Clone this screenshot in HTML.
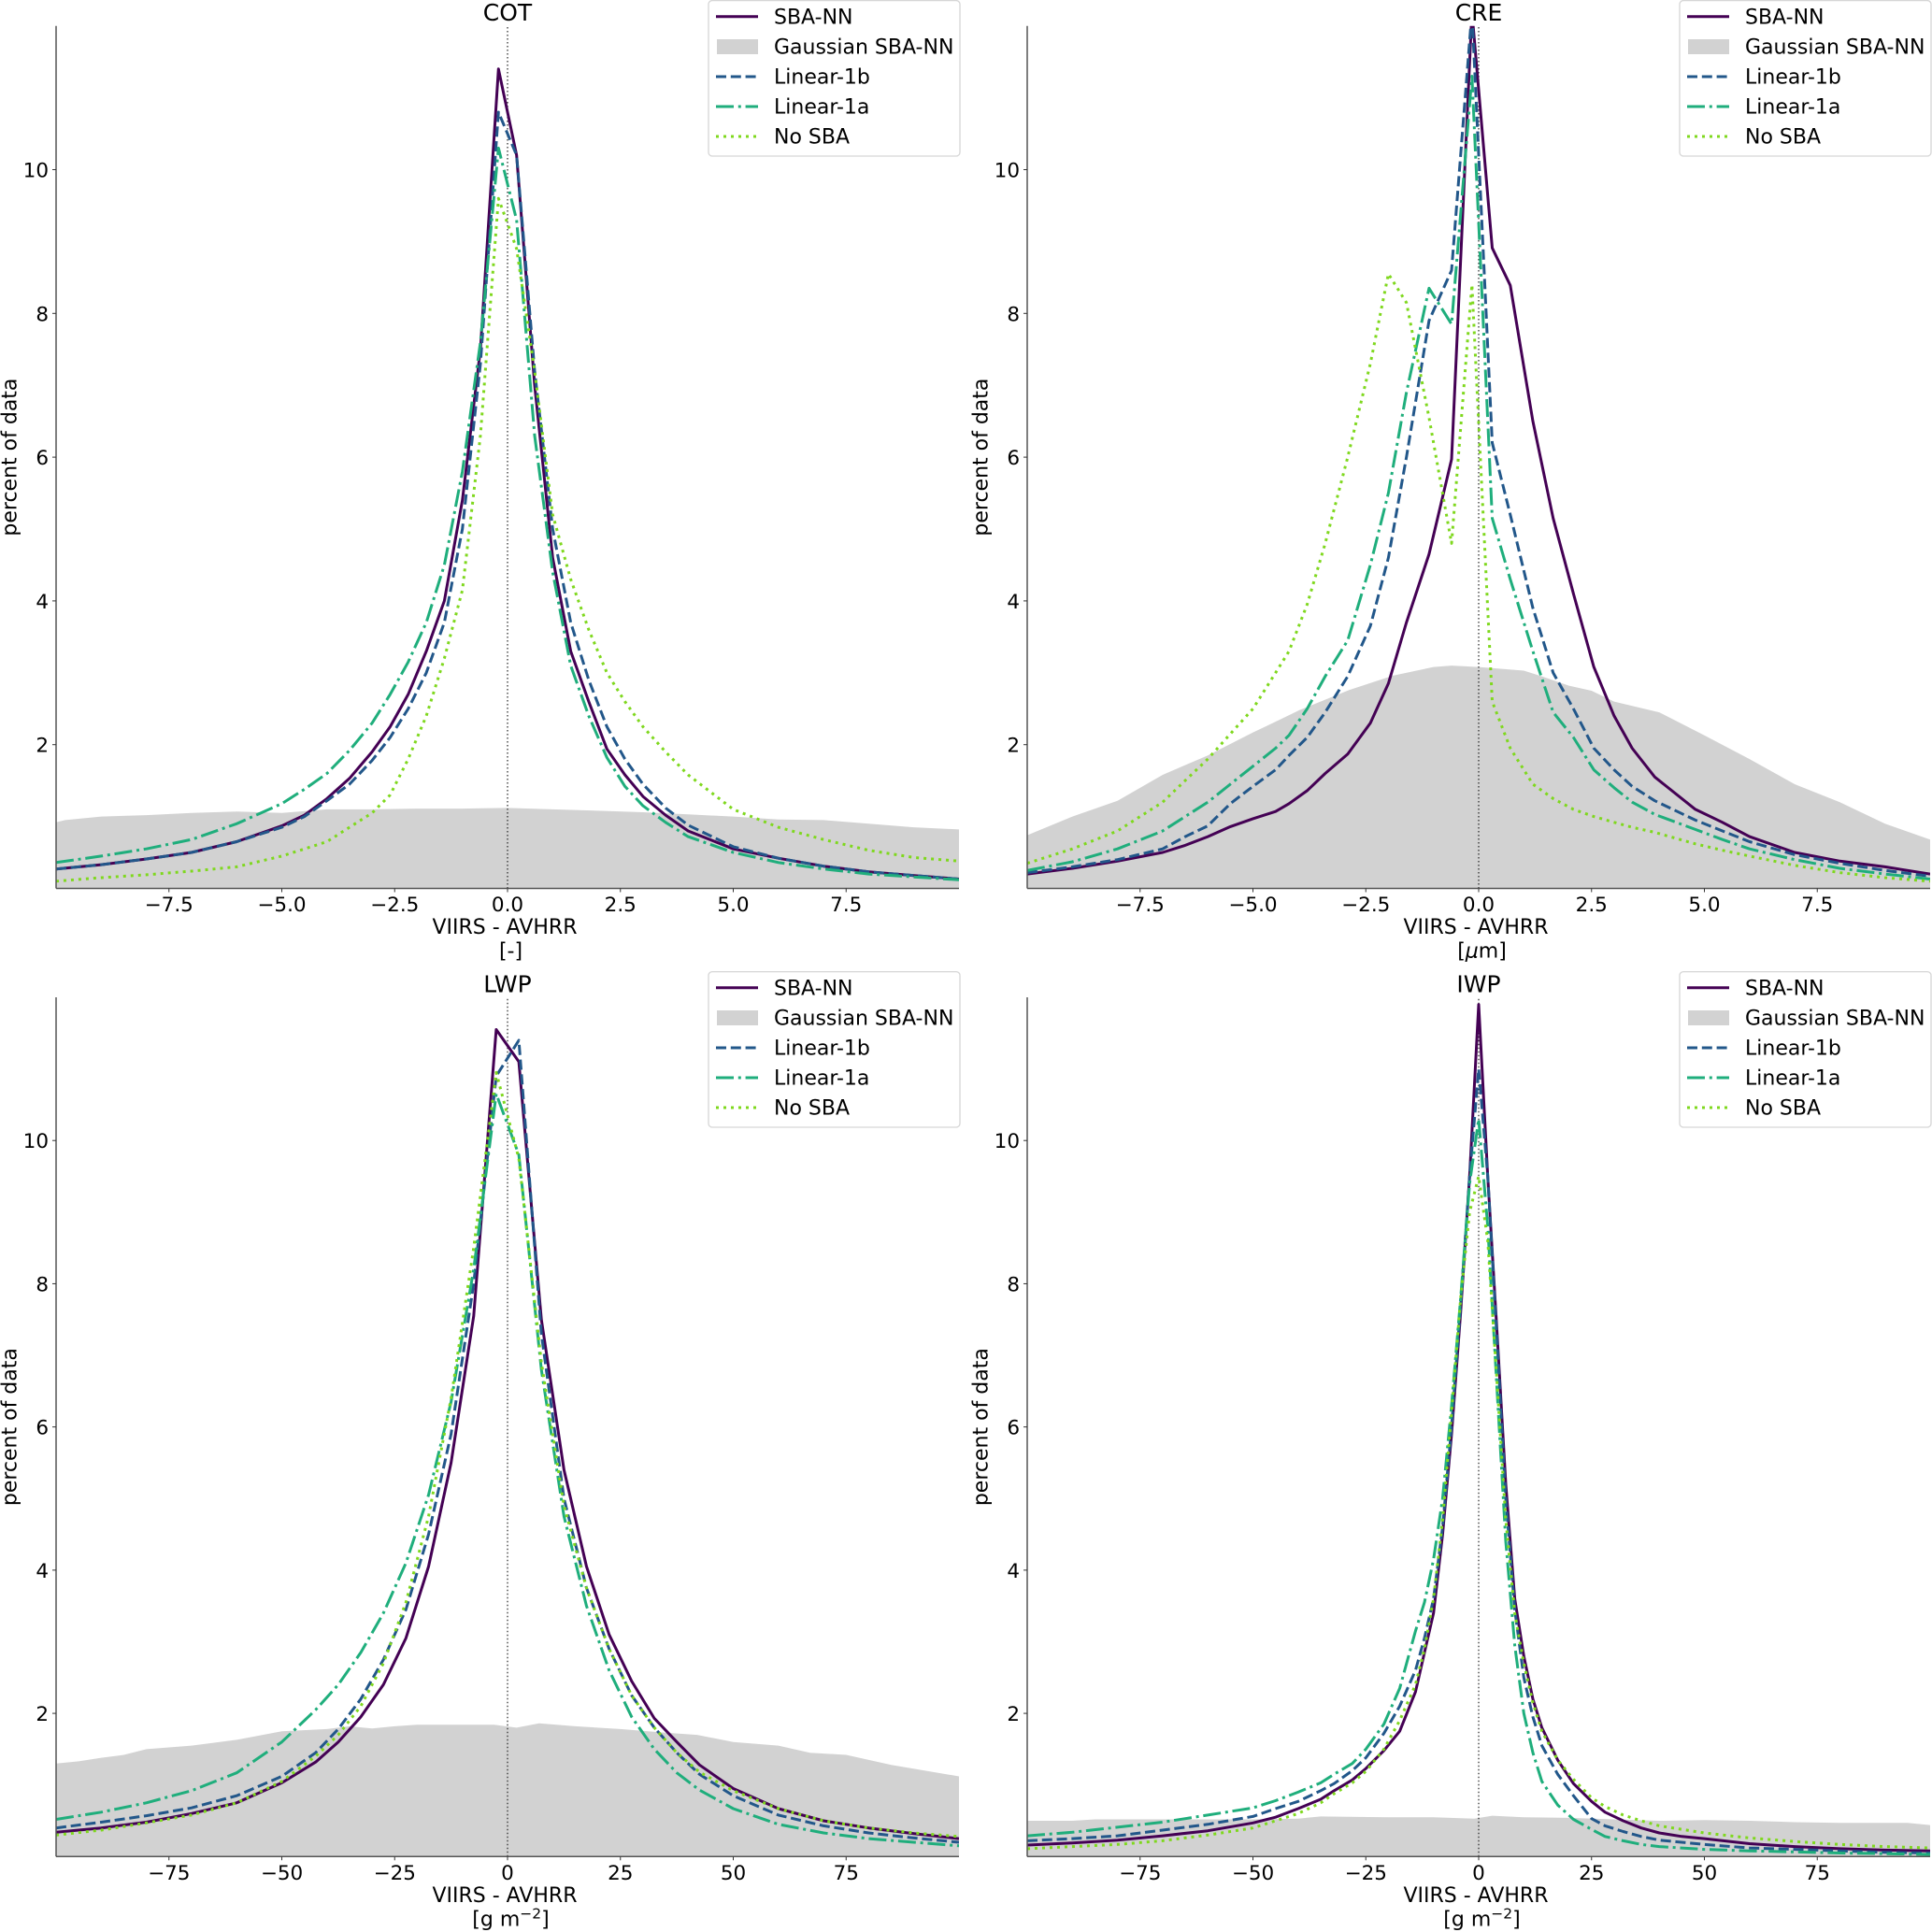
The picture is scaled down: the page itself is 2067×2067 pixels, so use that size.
<!DOCTYPE html>
<html>
<head>
<meta charset="utf-8">
<title>VIIRS - AVHRR difference distributions</title>
<style>
html,body{margin:0;padding:0;background:#fff;}
svg{display:block;}
text{font-family:"DejaVu Sans","Liberation Sans",sans-serif;fill:#000;}
</style>
</head>
<body>
<svg id="figure" xmlns="http://www.w3.org/2000/svg" width="2067" height="2067" viewBox="0 0 2067 2067"></svg>
<script>
// ---- tick labels ----
const yTickValues = [2, 4, 6, 8, 10];
const xTicksSmall = [-7.5, -5, -2.5, 0, 2.5, 5, 7.5];
const xTickLabelsSmall = ['\u22127.5', '\u22125.0', '\u22122.5', '0.0', '2.5', '5.0', '7.5'];
const xTicksLarge = [-75, -50, -25, 0, 25, 50, 75];
const xTickLabelsLarge = ['\u221275', '\u221250', '\u221225', '0', '25', '50', '75'];
const legendLabels = ['SBA-NN', 'Gaussian SBA-NN', 'Linear-1b', 'Linear-1a', 'No SBA'];

// ---- COT ----
const cotX = [-10,-9,-8,-7,-6,-5,-4.5,-4,-3.5,-3,-2.6,-2.2,-1.8,-1.4,-1,-0.6,-0.2,0.2,0.6,1,1.4,1.8,2.2,2.6,3,3.5,4,5,6,7,8,9,10];
const cotSbaNn =   [0.27,0.33,0.41,0.5,0.65,0.87,1.02,1.25,1.53,1.9,2.25,2.7,3.3,4.0,5.4,7.5,11.4,10.2,7.0,4.6,3.3,2.6,1.94,1.58,1.28,1.02,0.8,0.55,0.42,0.31,0.23,0.18,0.13];
const cotLinear1b =[0.27,0.33,0.41,0.5,0.65,0.85,1.0,1.22,1.45,1.78,2.1,2.5,3.0,3.7,5.0,7.3,10.8,10.2,7.2,5.0,3.7,2.9,2.25,1.8,1.45,1.12,0.88,0.58,0.42,0.31,0.23,0.18,0.13];
const cotLinear1a =[0.36,0.45,0.55,0.68,0.9,1.18,1.38,1.6,1.92,2.3,2.7,3.15,3.7,4.5,5.8,7.6,10.3,9.3,6.3,4.4,3.1,2.4,1.82,1.42,1.15,0.92,0.72,0.5,0.36,0.27,0.2,0.16,0.12];
const cotNoSba =   [0.1,0.15,0.19,0.24,0.3,0.45,0.55,0.65,0.85,1.05,1.3,1.8,2.4,3.2,4.15,6.3,9.6,8.9,7.2,5.2,4.3,3.6,3.0,2.6,2.25,1.9,1.58,1.1,0.85,0.68,0.53,0.43,0.38];
const cotGaussX = [-10,-9.8,-9,-8,-7,-6,-5,-4,-3,-2,-1,0,1,2,3,4,5,6,7,8,9,10];
const cotGauss =  [0.92,0.95,1.0,1.02,1.05,1.07,1.05,1.1,1.1,1.11,1.11,1.12,1.1,1.08,1.06,1.03,1.0,0.96,0.95,0.9,0.85,0.82];

// ---- CRE ----
const creX = [-10,-9,-8,-7,-6.5,-6,-5.5,-5,-4.5,-4.2,-3.8,-3.4,-2.9,-2.4,-2,-1.6,-1.1,-0.6,-0.15,0.3,0.7,1.2,1.65,2.1,2.55,3,3.4,3.9,4.8,5.4,6,7,8,9,10];
const creSbaNn =   [0.2,0.28,0.38,0.5,0.6,0.72,0.86,0.97,1.07,1.18,1.36,1.6,1.87,2.3,2.85,3.7,4.65,5.97,12.2,8.91,8.39,6.5,5.15,4.1,3.08,2.4,1.95,1.55,1.1,0.92,0.72,0.5,0.38,0.3,0.2];
const creLinear1b =[0.22,0.3,0.4,0.55,0.72,0.87,1.18,1.42,1.65,1.85,2.1,2.45,2.95,3.65,4.6,6.0,7.9,8.6,12.2,6.2,5.2,3.9,3.0,2.5,1.95,1.65,1.42,1.22,0.95,0.8,0.65,0.47,0.35,0.25,0.17];
const creLinear1a =[0.25,0.37,0.55,0.8,1.0,1.2,1.45,1.7,1.95,2.13,2.5,2.95,3.45,4.5,5.5,6.9,8.35,7.85,11.3,5.15,4.3,3.3,2.45,2.1,1.65,1.4,1.2,1.03,0.82,0.68,0.55,0.4,0.28,0.2,0.13];
const creNoSba =   [0.35,0.55,0.8,1.2,1.5,1.8,2.15,2.5,3.0,3.3,3.95,4.8,6.0,7.3,8.55,8.15,6.55,4.8,8.4,2.6,1.95,1.45,1.25,1.1,1.0,0.92,0.85,0.78,0.62,0.53,0.45,0.32,0.22,0.15,0.1];
const creGaussX = [-10,-9,-8,-7,-6.45,-6,-5,-4.66,-3.97,-2.87,-1.9,-1,-0.6,0,1,1.5,2,2.5,3,4,5,6,7,8,9,10];
const creGauss =  [0.74,1.0,1.22,1.58,1.73,1.85,2.17,2.27,2.48,2.76,2.96,3.08,3.1,3.08,3.03,2.93,2.82,2.75,2.6,2.45,2.13,1.8,1.45,1.2,0.9,0.68];

// ---- LWP ----
const lwpX = [-100,-90,-80,-70,-60,-50,-42.5,-37.5,-32.5,-27.5,-22.5,-17.5,-12.5,-7.5,-2.5,2.5,7.5,12.5,17.5,22.5,27.5,32.5,37.5,42.5,50,60,70,80,90,100];
const lwpSbaNn =   [0.34,0.4,0.48,0.6,0.75,1.03,1.32,1.6,1.95,2.4,3.05,4.05,5.5,7.55,11.55,11.1,7.5,5.4,4.05,3.1,2.45,1.93,1.6,1.28,0.95,0.67,0.5,0.4,0.32,0.25];
const lwpLinear1b =[0.4,0.48,0.57,0.68,0.85,1.12,1.45,1.78,2.2,2.75,3.45,4.5,5.9,8.0,10.9,11.4,7.3,5.0,3.75,2.9,2.25,1.8,1.45,1.15,0.85,0.58,0.43,0.33,0.26,0.2];
const lwpLinear1a =[0.52,0.62,0.75,0.92,1.17,1.6,2.05,2.4,2.85,3.4,4.1,5.05,6.35,8.2,10.65,9.8,6.8,4.75,3.5,2.6,1.95,1.5,1.17,0.93,0.67,0.45,0.33,0.25,0.2,0.15];
const lwpNoSba =   [0.3,0.37,0.47,0.58,0.75,1.05,1.4,1.7,2.1,2.7,3.55,4.75,6.4,8.5,10.95,9.75,6.9,4.9,3.75,2.9,2.25,1.8,1.45,1.18,0.92,0.67,0.5,0.4,0.33,0.28];
const lwpGaussX = [-100,-95,-90,-85,-80,-70,-60,-50,-40,-35,-30,-25,-20,-10,-3,2,7,15,25,35,42,50,60,67,75,85,100];
const lwpGauss =  [1.3,1.33,1.38,1.42,1.5,1.55,1.63,1.75,1.78,1.82,1.79,1.82,1.84,1.84,1.84,1.8,1.86,1.82,1.78,1.73,1.7,1.6,1.55,1.45,1.42,1.28,1.12];

// ---- IWP ----
const iwpX = [-100,-90,-80,-70,-60,-50,-45,-40,-35,-32,-28,-25,-21,-17.5,-14,-12,-10,-8,-6,-4,-2,0,2,4,6,8,10,12,14,17.5,21,25,28,32,36,40,45,50,60,70,80,90,100];
const iwpSbaNn =   [0.16,0.19,0.23,0.29,0.36,0.47,0.55,0.67,0.8,0.92,1.07,1.23,1.48,1.75,2.3,2.85,3.4,4.5,5.9,7.6,9.5,11.9,9.5,7.4,5.2,3.6,2.8,2.2,1.8,1.35,1.02,0.77,0.62,0.5,0.4,0.33,0.28,0.25,0.18,0.14,0.11,0.09,0.08];
const iwpLinear1b =[0.22,0.25,0.29,0.37,0.45,0.56,0.67,0.77,0.92,1.02,1.2,1.38,1.72,2.1,2.6,3.05,3.6,4.6,6.0,7.7,9.5,11.0,9.5,7.3,5.0,3.45,2.5,1.95,1.55,1.15,0.85,0.53,0.43,0.35,0.28,0.23,0.2,0.17,0.12,0.1,0.08,0.06,0.05];
const iwpLinear1a =[0.29,0.34,0.41,0.48,0.58,0.68,0.78,0.9,1.03,1.15,1.3,1.5,1.85,2.35,3.15,3.55,4.15,5.0,6.3,7.8,9.4,10.3,8.8,6.6,4.4,2.95,2.0,1.45,1.05,0.72,0.52,0.38,0.28,0.22,0.17,0.14,0.12,0.1,0.08,0.065,0.05,0.04,0.03];
const iwpNoSba =   [0.11,0.14,0.17,0.22,0.3,0.4,0.5,0.6,0.75,0.88,1.03,1.19,1.5,1.9,2.4,2.9,3.6,4.7,6.2,7.8,9.0,9.5,8.6,6.7,4.7,3.4,2.7,2.15,1.75,1.35,1.08,0.82,0.7,0.58,0.5,0.43,0.38,0.33,0.26,0.21,0.17,0.14,0.12];
const iwpGaussX = [-100,-90,-85,-75,-60,-50,-40,-35,-20,-10,-1,3,10,20,30,40,50,60,70,80,95,100];
const iwpGauss =  [0.5,0.5,0.52,0.52,0.52,0.52,0.53,0.56,0.55,0.55,0.53,0.57,0.55,0.54,0.52,0.5,0.51,0.5,0.48,0.47,0.47,0.44];

const NS = 'http://www.w3.org/2000/svg';
const svg = document.getElementById('figure');

function el(parent, tag, attrs, txt) {
  const e = document.createElementNS(NS, tag);
  for (const k in attrs) e.setAttribute(k, attrs[k]);
  if (txt !== undefined) e.textContent = txt;
  parent.appendChild(e);
  return e;
}

const seriesStyles = [
  { stroke: '#440154', dash: null, sw: 3 },
  { stroke: '#22578a', dash: '11 4.8', sw: 3 },
  { stroke: '#1fae7c', dash: '19 4.8 3 4.8', sw: 3 },
  { stroke: '#7fd81e', dash: '3 5', sw: 3 }
];
const seriesKeys = ['sba-nn', 'linear-1b', 'linear-1a', 'no-sba'];

const panels = [
  { id: 'cot', title: 'COT', unit: ['[-]'], left: 60, bottom: 950.5, top: 27.7, xMax: 10, xTicks: xTicksSmall, xLabels: xTickLabelsSmall, x: cotX, gx: cotGaussX, g: cotGauss, series: [cotSbaNn, cotLinear1b, cotLinear1a, cotNoSba], legendTop: 0 },
  { id: 'cre', title: 'CRE', unit: ['[', '\u03bc', 'm]'], left: 1099, bottom: 950.5, top: 27.7, xMax: 10, xTicks: xTicksSmall, xLabels: xTickLabelsSmall, x: creX, gx: creGaussX, g: creGauss, series: [creSbaNn, creLinear1b, creLinear1a, creNoSba], legendTop: 0 },
  { id: 'lwp', title: 'LWP', unit: ['[g m', '\u22122', ']'], left: 60, bottom: 1986.3, top: 1067, xMax: 100, xTicks: xTicksLarge, xLabels: xTickLabelsLarge, x: lwpX, gx: lwpGaussX, g: lwpGauss, series: [lwpSbaNn, lwpLinear1b, lwpLinear1a, lwpNoSba], legendTop: 1039 },
  { id: 'iwp', title: 'IWP', unit: ['[g m', '\u22122', ']'], left: 1099, bottom: 1986.3, top: 1067, xMax: 100, xTicks: xTicksLarge, xLabels: xTickLabelsLarge, x: iwpX, gx: iwpGaussX, g: iwpGauss, series: [iwpSbaNn, iwpLinear1b, iwpLinear1a, iwpNoSba], legendTop: 1039 }
];

const PLOT_W = 966;
const Y_MAX = 12;

function xScale(p, v) { return p.left + (v + p.xMax) / (2 * p.xMax) * PLOT_W; }
function yScale(p, v) { return p.bottom - v / Y_MAX * (p.bottom - p.top); }

panels.forEach(function (p) {
  const g = el(svg, 'g', {});
  
  

  const clip = el(g, 'clipPath', { id: 'clip-' + p.id });
  el(clip, 'rect', { x: p.left, y: p.top, width: PLOT_W, height: p.bottom - p.top });

  // Gaussian area
  let d = 'M' + xScale(p, p.gx[0]).toFixed(1) + ' ' + yScale(p, 0).toFixed(1);
  p.gx.forEach(function (v, i) { d += 'L' + xScale(p, v).toFixed(1) + ' ' + yScale(p, p.g[i]).toFixed(1); });
  d += 'L' + xScale(p, p.gx[p.gx.length - 1]).toFixed(1) + ' ' + yScale(p, 0).toFixed(1) + 'Z';
  const area = el(g, 'path', { d: d, fill: '#d2d2d2', 'clip-path': 'url(#clip-' + p.id + ')' });
  
  

  // Zero reference line
  const zero = el(g, 'line', { x1: xScale(p, 0), x2: xScale(p, 0), y1: yScale(p, 0), y2: p.top, stroke: '#222', 'stroke-width': 1.2, 'stroke-dasharray': '1.5 2.5' });
  
  

  // Series
  p.series.forEach(function (vals, si) {
    const st = seriesStyles[si];
    const pts = p.x.map(function (v, i) { return xScale(p, v).toFixed(1) + ',' + yScale(p, vals[i]).toFixed(1); }).join(' ');
    const line = el(g, 'polyline', { points: pts, fill: 'none', stroke: st.stroke, 'stroke-width': st.sw, 'stroke-linejoin': 'round', 'clip-path': 'url(#clip-' + p.id + ')' });
    if (st.dash) line.setAttribute('stroke-dasharray', st.dash);
    
    
  });

  // Spines
  const spineL = el(g, 'line', { x1: p.left, x2: p.left, y1: p.top, y2: p.bottom, stroke: '#555', 'stroke-width': 1.5 });
  
  
  const spineB = el(g, 'line', { x1: p.left, x2: p.left + PLOT_W, y1: p.bottom, y2: p.bottom, stroke: '#555', 'stroke-width': 1.5 });
  
  

  // Y ticks
  yTickValues.forEach(function (v) {
    const y = yScale(p, v);
    const tick = el(g, 'line', { x1: p.left - 4, x2: p.left, y1: y, y2: y, stroke: '#333', 'stroke-width': 1 });
    
    
    const lab = el(g, 'text', { x: p.left - 8, y: y + 8, 'font-size': 21.5, 'text-anchor': 'end' }, String(v));
    
    
  });

  // X ticks
  p.xTicks.forEach(function (v, i) {
    const x = xScale(p, v);
    const tick = el(g, 'line', { x1: x, x2: x, y1: p.bottom, y2: p.bottom + 4, stroke: '#333', 'stroke-width': 1 });
    
    
    const lab = el(g, 'text', { x: x, y: p.bottom + 24.5, 'font-size': 21.5, 'text-anchor': 'middle' }, p.xLabels[i]);
    
    
  });

  // Title
  const cx = xScale(p, 0);
  const title = el(g, 'text', { x: cx, y: p.top - 5.5, 'font-size': 25, 'text-anchor': 'middle' }, p.title);
  
  

  // X label
  const xl = el(g, 'text', { x: cx - 3, y: p.bottom + 48.5, 'font-size': 22, 'text-anchor': 'middle' }, 'VIIRS - AVHRR');
  
  
  const un = el(g, 'text', { x: cx + 3.5, y: p.bottom + 74, 'font-size': 22, 'text-anchor': 'middle' });
  
  
  if (p.unit.length === 1) {
    un.textContent = p.unit[0];
  } else if (p.id === 'cre') {
    el(un, 'tspan', {}, p.unit[0]);
    el(un, 'tspan', { 'font-style': 'italic' }, p.unit[1]);
    el(un, 'tspan', {}, p.unit[2]);
  } else {
    el(un, 'tspan', {}, p.unit[0]);
    el(un, 'tspan', { 'font-size': 15.5, dy: -8 }, p.unit[1]);
    el(un, 'tspan', { dy: 8 }, p.unit[2]);
  }

  // Y label
  const ylx = p.left - 49;
  const yly = (p.top + p.bottom) / 2;
  const yl = el(g, 'text', { x: ylx, y: yly, 'font-size': 22, 'text-anchor': 'middle', 'dominant-baseline': 'central', transform: 'rotate(-90 ' + ylx + ' ' + yly + ')' }, 'percent of data');
  
  

  // Legend
  const lx = p.left + 698;
  const ly = p.legendTop;
  const leg = el(g, 'g', {});
  
  
  el(leg, 'rect', { x: lx, y: ly + 0.6, width: 269, height: 166.4, rx: 4, ry: 4, fill: '#fff', stroke: '#d6d6d6', 'stroke-width': 1.3 });
  const rowY = [17.8, 50, 82, 114, 146];
  const rowStyle = [seriesStyles[0], null, seriesStyles[1], seriesStyles[2], seriesStyles[3]];
  legendLabels.forEach(function (label, i) {
    const y = ly + rowY[i];
    const st = rowStyle[i];
    if (st) {
      const s = el(leg, 'line', { x1: lx + 8, x2: lx + 53, y1: y, y2: y, stroke: st.stroke, 'stroke-width': st.sw });
      if (st.dash) s.setAttribute('stroke-dasharray', st.dash);
      
      
    } else {
      const s = el(leg, 'rect', { x: lx + 9, y: y - 8, width: 44, height: 16, fill: '#d2d2d2' });
      
      
    }
    const t = el(leg, 'text', { x: lx + 70, y: y + 7.5, 'font-size': 22 }, label);
    
    
  });
});
</script>
</body>
</html>
